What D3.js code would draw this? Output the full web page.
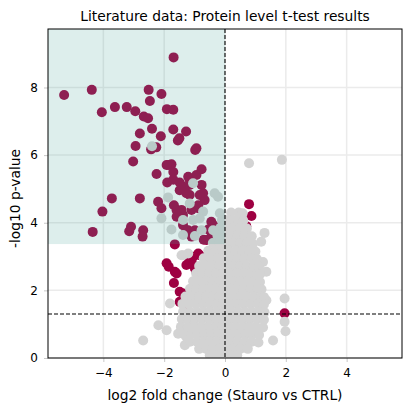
<!DOCTYPE html>
<html>
<head>
<meta charset="utf-8">
<script src="https://cdn.jsdelivr.net/npm/d3@7"></script>
<style>
  body { margin: 0; background: #fff; }
  text { font-family: "DejaVu Sans", sans-serif; fill: #000; }
</style>
</head>
<body>
<svg id="chart" width="411" height="411"></svg>
<script>
// significant proteins, [log2 fold change, -log10 p]
var significant = [
  [-1.69, 8.89], [-5.29, 7.78], [-4.38, 7.93], [-2.51, 7.93], [-2.09, 7.81],
  [-2.47, 7.60], [-4.05, 7.27], [-3.62, 7.42], [-3.23, 7.42], [-2.95, 7.30],
  [-2.67, 7.14], [-2.53, 7.09], [-1.91, 7.36], [-1.70, 7.34], [-2.40, 6.78],
  [-2.80, 6.64], [-2.11, 6.56], [-1.70, 6.76], [-1.28, 6.70], [-1.50, 6.50],
  [-1.55, 6.43], [-2.94, 6.27], [-2.26, 6.23], [-2.43, 6.17], [-0.94, 6.20],
  [-0.98, 6.15], [-3.02, 5.81], [-1.87, 5.71], [-1.76, 5.73], [-1.70, 5.50],
  [-2.25, 5.44], [-1.90, 5.19], [-1.49, 5.19], [-1.38, 5.07], [-1.21, 5.36],
  [-0.94, 5.41], [-0.77, 5.58], [-1.16, 4.82], [-0.77, 5.12], [-0.72, 4.87],
  [-0.67, 4.67], [-3.72, 4.72], [-2.80, 4.72], [-4.03, 4.33], [-4.35, 3.73],
  [-3.09, 3.88], [-3.15, 3.75], [-2.69, 3.78], [-2.71, 3.59], [-2.20, 4.62],
  [-2.09, 4.43], [-1.68, 4.52], [-1.43, 4.38], [-1.38, 4.23], [-1.10, 4.38],
  [-0.88, 4.43], [-1.59, 4.18], [-0.45, 4.03], [-0.39, 3.93], [-1.38, 3.93],
  [-1.27, 3.78], [-1.10, 3.59], [-1.05, 3.73], [-0.55, 3.80], [-0.45, 3.59],
  [-0.70, 3.50], [-1.65, 3.36], [-1.16, 5.27], [-1.70, 5.27], [-1.92, 5.71],
  [-1.59, 4.37], [-1.21, 3.78], [-0.99, 3.78], [-0.61, 3.49], [-0.88, 4.52],
  [-0.83, 4.82], [-1.49, 4.96], [-1.27, 4.87], [-1.16, 5.12],
  [-1.92, 2.80], [-1.85, 2.70], [-1.65, 2.55], [-1.59, 2.50], [-1.68, 2.22],
  [-1.49, 1.96], [-1.38, 1.91], [-1.49, 1.66], [-1.29, 1.36], [-1.27, 2.75],
  [-1.05, 2.99], [-0.83, 3.04], [-1.16, 2.89], [-1.05, 2.75], [-0.94, 2.55],
  [-0.88, 3.09], [-0.99, 2.65], [-0.88, 2.50],
  [0.79, 4.55], [0.87, 4.20], [0.70, 3.90], [0.79, 3.14], [1.96, 1.32]
];

// not significant proteins
var notSignificant = [
  [-2.40, 6.26], [-1.05, 5.17], [-0.34, 4.87], [-0.23, 4.77], [-0.17, 4.28],
  [-1.87, 4.75], [-2.09, 4.13], [-1.76, 3.80], [-1.16, 4.57], [-0.72, 4.33],
  [-1.38, 4.08], [-1.05, 4.08], [-0.83, 4.13], [-1.38, 3.64], [-0.99, 3.61],
  [-0.77, 3.78], [-0.39, 3.78], [-0.17, 3.54],
  [0.79, 5.76], [1.87, 5.86], [1.30, 3.70], [1.19, 3.44],
  [-1.43, 3.04], [-1.21, 3.09], [-1.38, 3.04],
  [-2.69, 0.52], [-2.19, 0.97], [-1.92, 0.82], [-1.54, 0.72], [-1.27, 0.62],
  [-1.81, 1.61], [-1.32, 0.38],
  [1.96, 1.76], [1.96, 1.07], [1.99, 0.79], [1.36, 2.55], [1.58, 0.52],
  [1.36, 1.71], [1.25, 2.84],
  // the dense cloud around zero
  [0.20, 4.30], [0.45, 4.30], [0.58, 4.28],
  [-0.10, 4.08], [0.00, 4.08], [0.22, 4.08], [0.42, 4.08], [0.60, 4.06],
  [-0.15, 3.85], [0.05, 3.85], [0.28, 3.85], [0.50, 3.85], [0.72, 3.83],
  [-0.25, 3.62], [-0.02, 3.62], [0.20, 3.62], [0.42, 3.62], [0.65, 3.62], [0.88, 3.60],
  [-0.40, 3.40], [-0.18, 3.40], [0.05, 3.40], [0.28, 3.40], [0.50, 3.40], [0.72, 3.40], [0.92, 3.38],
  [-0.55, 3.17], [-0.32, 3.17], [-0.10, 3.17], [0.12, 3.17], [0.35, 3.17], [0.58, 3.17], [0.80, 3.17], [1.00, 3.15],
  [-0.70, 2.95], [-0.48, 2.95], [-0.25, 2.95], [-0.02, 2.95], [0.20, 2.95], [0.42, 2.95], [0.65, 2.95], [0.88, 2.95], [1.05, 2.93],
  [-0.85, 2.72], [-0.62, 2.72], [-0.40, 2.72], [-0.18, 2.72], [0.05, 2.72], [0.28, 2.72], [0.50, 2.72], [0.72, 2.72], [0.95, 2.72], [1.12, 2.70],
  [-0.95, 2.50], [-0.75, 2.50], [-0.52, 2.50], [-0.30, 2.50], [-0.08, 2.50], [0.15, 2.50], [0.38, 2.50], [0.60, 2.50], [0.82, 2.50], [1.05, 2.50], [1.15, 2.48],
  [-1.05, 2.27], [-0.85, 2.27], [-0.62, 2.27], [-0.40, 2.27], [-0.18, 2.27], [0.05, 2.27], [0.28, 2.27], [0.50, 2.27], [0.72, 2.27], [0.95, 2.27], [1.15, 2.25],
  [-1.15, 2.05], [-0.95, 2.05], [-0.72, 2.05], [-0.50, 2.05], [-0.28, 2.05], [-0.05, 2.05], [0.18, 2.05], [0.40, 2.05], [0.62, 2.05], [0.85, 2.05], [1.08, 2.05], [1.20, 2.03],
  [-1.30, 1.82], [-1.08, 1.82], [-0.85, 1.82], [-0.62, 1.82], [-0.40, 1.82], [-0.18, 1.82], [0.05, 1.82], [0.28, 1.82], [0.50, 1.82], [0.72, 1.82], [0.95, 1.82], [1.18, 1.82], [1.28, 1.80],
  [-1.40, 1.60], [-1.18, 1.60], [-0.95, 1.60], [-0.72, 1.60], [-0.50, 1.60], [-0.28, 1.60], [-0.05, 1.60], [0.18, 1.60], [0.40, 1.60], [0.62, 1.60], [0.85, 1.60], [1.08, 1.60], [1.28, 1.58],
  [-1.38, 1.37], [-1.15, 1.37], [-0.92, 1.37], [-0.70, 1.37], [-0.48, 1.37], [-0.25, 1.37], [-0.02, 1.37], [0.20, 1.37], [0.42, 1.37], [0.65, 1.37], [0.88, 1.37], [1.10, 1.37], [1.30, 1.35],
  [-1.42, 1.15], [-1.20, 1.15], [-0.98, 1.15], [-0.75, 1.15], [-0.52, 1.15], [-0.30, 1.15], [-0.08, 1.15], [0.15, 1.15], [0.38, 1.15], [0.60, 1.15], [0.82, 1.15], [1.05, 1.15], [1.28, 1.13],
  [-1.45, 0.92], [-1.22, 0.92], [-1.00, 0.92], [-0.78, 0.92], [-0.55, 0.92], [-0.32, 0.92], [-0.10, 0.92], [0.12, 0.92], [0.35, 0.92], [0.58, 0.92], [0.80, 0.92], [1.02, 0.92], [1.25, 0.90],
  [-1.35, 0.70], [-1.12, 0.70], [-0.90, 0.70], [-0.68, 0.70], [-0.45, 0.70], [-0.22, 0.70], [0.00, 0.70], [0.22, 0.70], [0.45, 0.70], [0.68, 0.70], [0.90, 0.70], [1.12, 0.68],
  [-1.15, 0.48], [-0.92, 0.48], [-0.70, 0.48], [-0.48, 0.48], [-0.25, 0.48], [-0.02, 0.48], [0.20, 0.48], [0.42, 0.48], [0.65, 0.48], [0.88, 0.48], [1.10, 0.46],
  [-0.85, 0.27], [-0.62, 0.27], [-0.40, 0.27], [-0.18, 0.27], [0.05, 0.27], [0.28, 0.27], [0.50, 0.27], [0.75, 0.27],
  [-0.50, 0.08], [-0.28, 0.08], [-0.05, 0.08], [0.18, 0.08], [0.40, 0.08]
];

var xTicks = [-4, -2, 0, 2, 4];
var yTicks = [0, 2, 4, 6, 8];
var xDomain = [-5.82, 5.82];
var yDomain = [0, 9.73];
var pLine = 1.3;          // -log10(0.05)
var highlightBottom = 3.37; // lower edge of the shaded box

var svg = d3.select("#chart"),
    width = +svg.attr("width"),
    height = +svg.attr("height");

var margin = {top: 29, right: 9, bottom: 53, left: 48};
var w = width - margin.left - margin.right,
    h = height - margin.top - margin.bottom;

var x = d3.scaleLinear().domain(xDomain).range([0, w]);
var y = d3.scaleLinear().domain(yDomain).range([h, 0]);

var g = svg.append("g")
    .attr("transform", "translate(" + margin.left + "," + margin.top + ")");

svg.append("defs").append("clipPath").attr("id", "plot-clip")
  .append("rect").attr("width", w).attr("height", h);

// grid
g.append("g").selectAll("line").data(xTicks).enter().append("line")
    .attr("x1", function(d) { return x(d); })
    .attr("x2", function(d) { return x(d); })
    .attr("y1", 0).attr("y2", h)
    .style("stroke", "#ebebeb").style("stroke-width", 1.5);
g.append("g").selectAll("line").data(yTicks).enter().append("line")
    .attr("y1", function(d) { return y(d); })
    .attr("y2", function(d) { return y(d); })
    .attr("x1", 0).attr("x2", w)
    .style("stroke", "#ebebeb").style("stroke-width", 1.5);

var pts = g.append("g").attr("clip-path", "url(#plot-clip)");

pts.selectAll("circle.sig").data(significant).enter().append("circle")
    .attr("class", "sig")
    .attr("cx", function(d) { return x(d[0]); })
    .attr("cy", function(d) { return y(d[1]); })
    .attr("r", 5)
    .style("fill", "#9e0142");

pts.selectAll("circle.ns").data(notSignificant).enter().append("circle")
    .attr("class", "ns")
    .attr("cx", function(d) { return x(d[0]); })
    .attr("cy", function(d) { return y(d[1]); })
    .attr("r", 5)
    .style("fill", "#d3d3d3");

// shaded box on top of the points
g.append("rect")
    .attr("x", x(xDomain[0]))
    .attr("y", y(yDomain[1]))
    .attr("width", x(0) - x(xDomain[0]))
    .attr("height", y(highlightBottom) - y(yDomain[1]))
    .style("fill", "rgb(72,163,153)")
    .style("fill-opacity", 0.19);

// threshold lines
g.append("line")
    .attr("x1", 0).attr("x2", w)
    .attr("y1", y(pLine)).attr("y2", y(pLine))
    .style("stroke", "#000").style("stroke-width", 1.1)
    .style("stroke-dasharray", "4,2");
g.append("line")
    .attr("x1", x(0)).attr("x2", x(0))
    .attr("y1", 0).attr("y2", h)
    .style("stroke", "#000").style("stroke-width", 1.1)
    .style("stroke-dasharray", "4,2");

// axes
var xAxis = g.append("g")
    .attr("transform", "translate(0," + h + ")")
    .call(d3.axisBottom(x).tickValues(xTicks).tickSize(4).tickPadding(6)
      .tickFormat(function(d) { return d < 0 ? "\u2212" + Math.abs(d) : d; }));
var yAxis = g.append("g")
    .call(d3.axisLeft(y).tickValues(yTicks).tickSize(4).tickPadding(6));

[xAxis, yAxis].forEach(function(a) {
  a.select(".domain").remove();
  a.selectAll(".tick line").style("stroke", "#c8c8c8");
  a.selectAll(".tick text").style("font-size", "12px")
    .style("font-family", "DejaVu Sans").style("fill", "#000");
});

// frame
g.append("rect")
    .attr("width", w).attr("height", h)
    .style("fill", "none").style("stroke", "#000").style("stroke-width", 1);

svg.append("text")
    .attr("x", margin.left + w / 2)
    .attr("y", 21)
    .attr("text-anchor", "middle")
    .style("font-size", "13.8px")
    .text("Literature data: Protein level t-test results");

svg.append("text")
    .attr("x", margin.left + w / 2)
    .attr("y", 400)
    .attr("text-anchor", "middle")
    .style("font-size", "13.8px")
    .text("log2 fold change (Stauro vs CTRL)");

svg.append("text")
    .attr("transform", "translate(20," + (margin.top + h / 2 + 5) + ") rotate(-90)")
    .attr("text-anchor", "middle")
    .style("font-size", "13.8px")
    .text("-log10 p-value");
</script>
</body>
</html>
